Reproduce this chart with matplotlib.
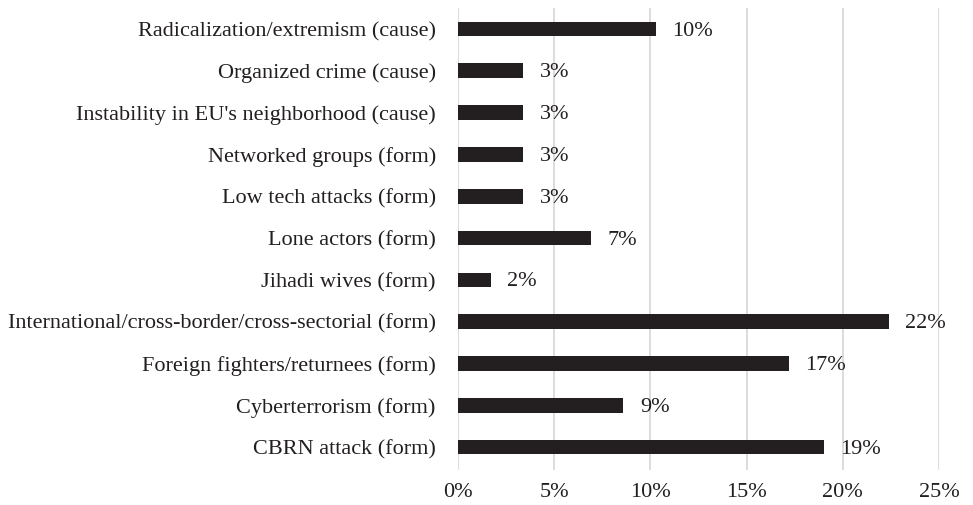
import matplotlib
matplotlib.use("Agg")
import matplotlib.pyplot as plt
from matplotlib.ticker import FuncFormatter

categories = [
    "CBRN attack (form)",
    "Cyberterrorism (form)",
    "Foreign fighters/returnees (form)",
    "International/cross-border/cross-sectorial (form)",
    "Jihadi wives (form)",
    "Lone actors (form)",
    "Low tech attacks (form)",
    "Networked groups (form)",
    "Instability in EU's neighborhood (cause)",
    "Organized crime (cause)",
    "Radicalization/extremism (cause)",
]
values = [19.0, 8.6, 17.2, 22.4, 1.7, 6.9, 3.4, 3.4, 3.4, 3.4, 10.3]
xticks = [0, 5, 10, 15, 20, 25]

plt.rcParams['font.family'] = ['Liberation Serif', 'DejaVu Serif']
fig = plt.figure(figsize=(9.73, 5.05), dpi=100)
ax = fig.add_axes([0.4707, 0.069, 0.4943, 0.915])

y = list(range(len(categories)))
ax.barh(y, values, height=0.35, color='#231f20', zorder=3)
for yi, v in zip(y, values):
    ax.text(v + 0.85, yi - 0.05, f"{round(v):d}%", va='center', ha='left',
            fontsize=16, color='#231f20')

ax.set_xlim(0, 25)
ax.set_ylim(-0.55, len(categories) - 0.5)
ax.set_xticks(xticks)
ax.xaxis.set_major_formatter(FuncFormatter(lambda v, p: f"{int(v)}%"))
ax.set_yticks(y)
ax.set_yticklabels(categories)
ax.tick_params(axis='both', length=0, labelsize=16, colors='#231f20')
ax.tick_params(axis='y', pad=16)
ax.tick_params(axis='x', pad=9)
ax.grid(axis='x', color='#d9d9d9', linewidth=1.3, zorder=0)
for s in ax.spines.values():
    s.set_visible(False)

fig.savefig("out.png", dpi=100)
